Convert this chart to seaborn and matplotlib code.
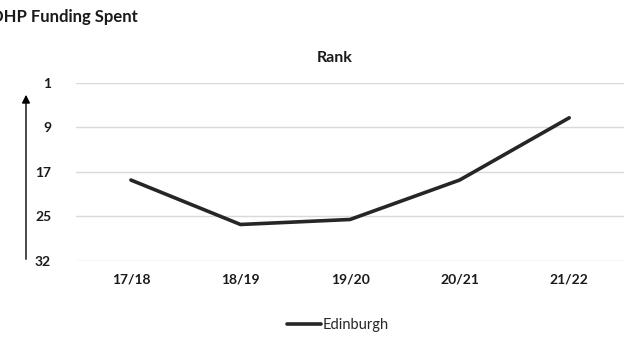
import matplotlib
matplotlib.use("Agg")
import matplotlib.pyplot as plt
import seaborn as sns
import pandas as pd

years = ["17/18", "18/19", "19/20", "20/21", "21/22"]
edinburgh_rank = [18.5, 26.5, 25.6, 18.5, 7.3]
y_ticks = [1, 9, 17, 25, 33]
y_tick_labels = ["1", "9", "17", "25", "32"]

sns.set_theme(style="white")
plt.rcParams['font.family'] = ['Lato', 'DejaVu Sans']

df = pd.DataFrame({"Year": years, "Rank": edinburgh_rank, "Area": "Edinburgh"})

fig = plt.figure(figsize=(6.24, 3.38), dpi=100)
ax = fig.add_axes([0.122, 0.229, 0.878, 0.526])

sns.lineplot(data=df, x="Year", y="Rank", hue="Area", palette=["#262626"],
             linewidth=2.6, ax=ax, sort=False, legend=False)

ax.set_ylim(33, 1)
ax.set_xlim(-0.5, 4.5)
ax.set_yticks(y_ticks)
ax.set_yticklabels(y_tick_labels, fontweight="bold", fontsize=10, color="#1a1a1a")
ax.set_xticks(range(len(years)))
ax.set_xticklabels(years, fontweight="bold", fontsize=10, color="#1a1a1a")
ax.tick_params(axis="y", length=0, pad=18)
ax.tick_params(axis="x", length=0, pad=9)
ax.yaxis.grid(True, color="#d9d9d9", linewidth=1)
ax.xaxis.grid(False)
for s in ax.spines.values():
    s.set_visible(False)
ax.set_xlabel("")
ax.set_ylabel("")

fig.text(335 / 624, 1 - 58 / 338, "Rank", ha="center", va="center",
         fontsize=11.5, fontweight="bold", color="#1a1a1a")
fig.text(-9 / 624, 1 - 17 / 338, "DHP Funding Spent", ha="left", va="center",
         fontsize=12, fontweight="bold", color="#1a1a1a")

fig.add_artist(matplotlib.patches.FancyArrowPatch(
    (26 / 624, 1 - 262 / 338), (26 / 624, 1 - 92 / 338),
    transform=fig.transFigure, arrowstyle="-|>", mutation_scale=12,
    color="black", linewidth=1))

handle = matplotlib.lines.Line2D([], [], color="#262626", linewidth=2.6)
fig.legend([handle], ["Edinburgh"], loc="center", bbox_to_anchor=(338 / 624, 1 - 325 / 338),
           frameon=False, fontsize=10.5, handlelength=2.3, handletextpad=0.15)

fig.savefig("out.png", dpi=100)
